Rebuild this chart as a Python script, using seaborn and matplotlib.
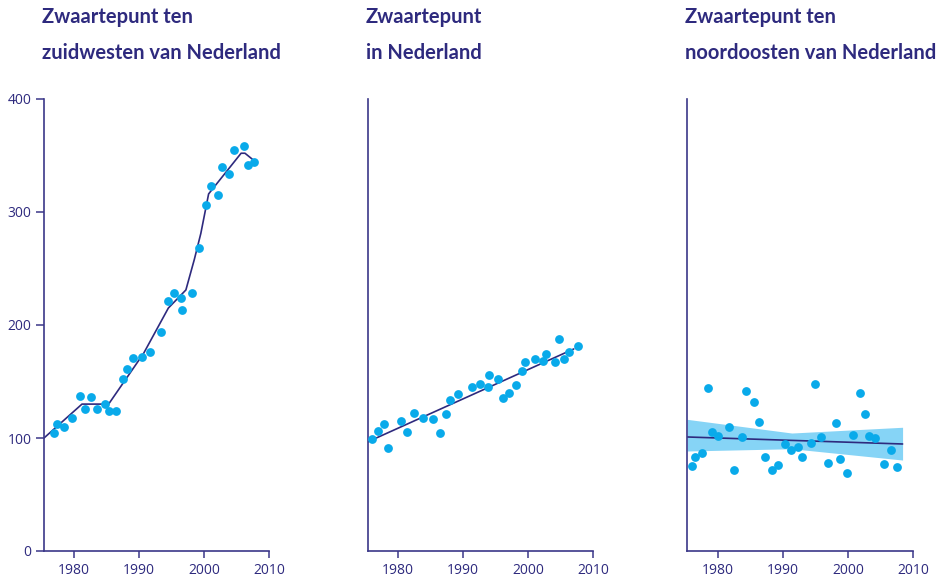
import matplotlib
matplotlib.use("Agg")
import matplotlib.pyplot as plt
import seaborn as sns
import pandas as pd

# --- data -------------------------------------------------------------
titles = [
    ["Zwaartepunt ten", "zuidwesten van Nederland"],
    ["Zwaartepunt", "in Nederland"],
    ["Zwaartepunt ten", "noordoosten van Nederland"],
]

sw_years = [1976.9, 1977.3, 1978.5, 1979.7, 1980.9, 1981.7, 1982.6, 1983.5,
            1984.8, 1985.4, 1986.5, 1987.5, 1988.2, 1989.0, 1990.5, 1991.6,
            1993.4, 1994.4, 1995.4, 1996.5, 1996.6, 1998.2, 1999.2, 2000.3,
            2001.0, 2002.2, 2002.8, 2003.8, 2004.6, 2006.2, 2006.7, 2007.7]
sw_values = [104, 112, 110, 118, 137, 126, 136, 126, 130, 124, 124, 152,
             161, 171, 172, 176, 194, 221, 228, 224, 213, 228, 268, 306,
             323, 315, 340, 334, 355, 358, 342, 344]
sw_trend_years = [1975.35, 1981.2, 1985.3, 1990.7, 1994.5, 1997.2, 1998.5,
                  1999.5, 2000.7, 2005.7, 2006.3, 2007.8]
sw_trend_values = [100, 130, 130, 175, 215, 231, 258, 281, 316, 352, 352, 345]

nl_years = [1976.0, 1976.9, 1977.8, 1978.4, 1980.5, 1981.3, 1982.5, 1983.8,
            1985.3, 1986.4, 1987.4, 1987.9, 1989.2, 1991.4, 1992.5, 1993.8,
            1994.0, 1995.3, 1996.1, 1997.0, 1998.1, 1999.0, 1999.5, 2001.1,
            2002.2, 2002.8, 2004.1, 2004.8, 2005.5, 2006.3, 2007.6]
nl_values = [99, 106, 112, 91, 115, 105, 122, 118, 117, 104, 121, 134, 139,
             145, 148, 145, 156, 152, 135, 140, 147, 159, 167, 170, 168, 174,
             167, 188, 170, 176, 181]
nl_trend_years = [1975.35, 2007.0]
nl_trend_values = [96.7, 178.8]

no_years = [1976.1, 1976.6, 1977.6, 1978.6, 1979.2, 1980.1, 1981.8, 1982.5,
            1983.8, 1984.3, 1985.6, 1986.3, 1987.3, 1988.4, 1989.3, 1990.3,
            1991.2, 1992.3, 1992.9, 1994.4, 1994.9, 1995.9, 1996.9, 1998.2,
            1998.8, 1999.8, 2000.8, 2001.8, 2002.6, 2003.3, 2004.2, 2005.5,
            2006.6, 2007.5]
no_values = [75, 83, 87, 144, 105, 102, 110, 72, 101, 142, 132, 114, 83, 72,
             76, 95, 89, 92, 83, 96, 148, 101, 78, 113, 81, 69, 103, 140, 121,
             102, 100, 77, 89, 74]
no_trend_years = [1975.35, 2008.4]
no_trend_values = [100.9, 94.7]
no_band_years = [1975.35, 1991.4, 2008.4]
no_band_low = [88.5, 90.5, 80.5]
no_band_high = [116.5, 104.4, 109.5]

x_ticks = [1980, 1990, 2000, 2010]
y_ticks = [0, 100, 200, 300, 400]

# --- style ------------------------------------------------------------
NAVY = "#2e2a7e"
SPINE = "#3b3789"
DOT = "#09aaea"
BAND = "#86d4f6"

sns.set_theme(style="white")
plt.rcParams["font.family"] = ["Open Sans", "DejaVu Sans"]

fig = plt.figure(figsize=(9.44, 5.79), dpi=100)
W, H = 944, 579
y_bottom_px, y_top_px = 551, 99
lefts = [44, 368, 687.3]
rights = [269, 593.3, 913]

panels = [
    (sw_years, sw_values, sw_trend_years, sw_trend_values, None),
    (nl_years, nl_values, nl_trend_years, nl_trend_values, None),
    (no_years, no_values, no_trend_years, no_trend_values,
     (no_band_years, no_band_low, no_band_high)),
]

for i, (yrs, vals, tx, ty, band) in enumerate(panels):
    ax = fig.add_axes([lefts[i] / W, (H - y_bottom_px) / H,
                       (rights[i] - lefts[i]) / W,
                       (y_bottom_px - y_top_px) / H])
    if band is not None:
        bx, blo, bhi = band
        ax.fill_between(bx, blo, bhi, color=BAND, linewidth=0, zorder=1)
    trend = pd.DataFrame({"jaar": tx, "waarde": ty})
    sns.lineplot(data=trend, x="jaar", y="waarde", ax=ax, color=NAVY,
                 linewidth=1.2, zorder=2)
    pts = pd.DataFrame({"jaar": yrs, "waarde": vals})
    sns.scatterplot(data=pts, x="jaar", y="waarde", ax=ax, color=DOT,
                    s=40, linewidth=0, zorder=3)

    ax.set_xlim(1975.35, 2010)
    ax.set_ylim(0, 400)
    ax.set_xticks(x_ticks)
    ax.set_xlabel("")
    ax.set_ylabel("")
    for side in ("top", "right"):
        ax.spines[side].set_visible(False)
    for side in ("left", "bottom"):
        ax.spines[side].set_color(SPINE)
        ax.spines[side].set_linewidth(1.2)
    ax.tick_params(axis="x", direction="out", length=5, width=1.1,
                   color=SPINE, labelcolor=NAVY, labelsize=10, pad=3.5,
                   bottom=True)
    if i == 0:
        ax.set_yticks(y_ticks)
        ax.tick_params(axis="y", direction="out", length=6, width=1.1,
                       color=SPINE, labelcolor=NAVY, labelsize=10, pad=3,
                       left=True)
    else:
        ax.set_yticks([])
    ax.set_facecolor("none")

    # two-line heading above each panel
    for j, line in enumerate(titles[i]):
        fig.text((lefts[i] - 2) / W, 1 - (7 + 36 * j) / H, line,
                 ha="left", va="top", color=NAVY, fontsize=14.5,
                 fontweight="bold", family=["Lato", "DejaVu Sans"])

fig.savefig("out.png", dpi=100)
